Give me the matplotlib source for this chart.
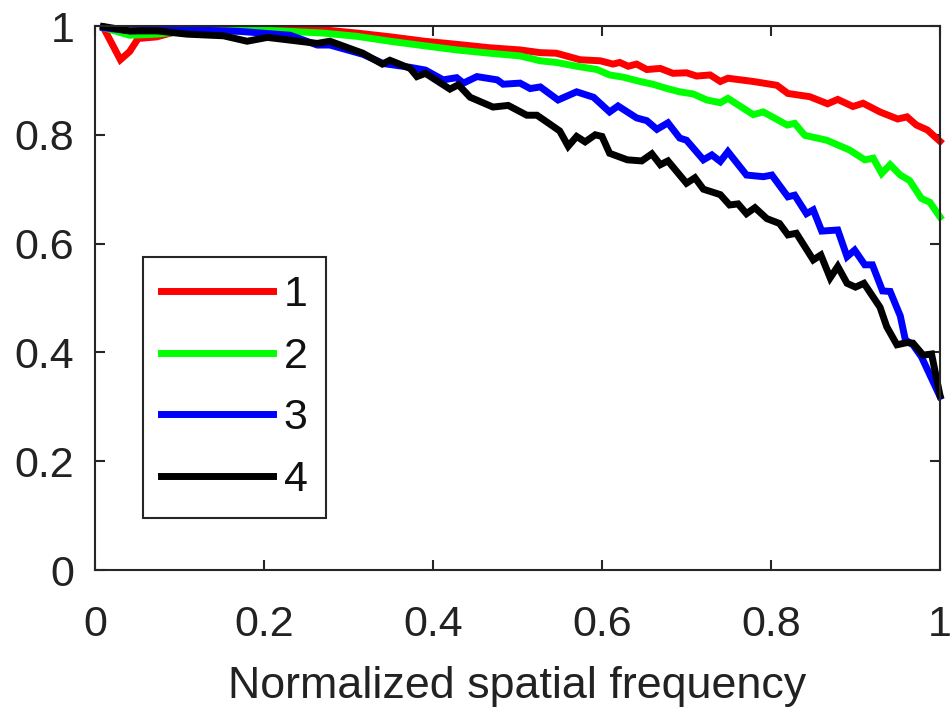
import matplotlib
matplotlib.use("Agg")
import matplotlib.pyplot as plt
from matplotlib.ticker import FixedLocator, FuncFormatter

plt.rcParams['font.family'] = ['Liberation Sans', 'DejaVu Sans']

labels = ["1", "2", "3", "4"]
colors = ["#ff0000", "#00ff00", "#0000ff", "#000000"]

x1 = [0.010, 0.030, 0.041, 0.051, 0.073, 0.097, 0.15, 0.20, 0.23, 0.27, 0.31, 0.35, 0.39, 0.43,
      0.467, 0.503, 0.527, 0.546, 0.574, 0.598, 0.613, 0.621, 0.631, 0.641, 0.653, 0.669, 0.684,
      0.700, 0.712, 0.728, 0.740, 0.749, 0.779, 0.807, 0.820, 0.846, 0.867, 0.879, 0.897, 0.909,
      0.929, 0.950, 0.961, 0.972, 0.985, 1.0]
y1 = [0.997, 0.938, 0.953, 0.977, 0.980, 0.990, 0.993, 0.995, 0.995, 0.993, 0.987, 0.980, 0.972, 0.966,
      0.960, 0.956, 0.951, 0.950, 0.938, 0.936, 0.930, 0.933, 0.926, 0.930, 0.920, 0.922, 0.913,
      0.914, 0.908, 0.910, 0.898, 0.904, 0.898, 0.891, 0.876, 0.870, 0.857, 0.865, 0.852, 0.858,
      0.842, 0.829, 0.833, 0.818, 0.809, 0.788]

x2 = [0.010, 0.041, 0.073, 0.112, 0.152, 0.191, 0.231, 0.270, 0.310, 0.349, 0.388, 0.428, 0.467,
      0.503, 0.527, 0.546, 0.570, 0.594, 0.609, 0.625, 0.645, 0.660, 0.677, 0.692, 0.708, 0.724,
      0.740, 0.749, 0.779, 0.791, 0.819, 0.828, 0.840, 0.866, 0.893, 0.911, 0.921, 0.931, 0.941,
      0.953, 0.964, 0.978, 0.988, 1.0]
y2 = [0.997, 0.983, 0.985, 0.991, 0.991, 0.993, 0.990, 0.987, 0.981, 0.972, 0.964, 0.956, 0.950,
      0.945, 0.936, 0.933, 0.926, 0.920, 0.910, 0.906, 0.898, 0.893, 0.885, 0.879, 0.875, 0.864,
      0.859, 0.867, 0.837, 0.842, 0.818, 0.821, 0.799, 0.790, 0.772, 0.754, 0.757, 0.729, 0.745,
      0.726, 0.716, 0.683, 0.676, 0.649]

x3 = [0.010, 0.041, 0.092, 0.112, 0.172, 0.231, 0.263, 0.278, 0.317, 0.341, 0.373, 0.391, 0.412,
      0.428, 0.436, 0.452, 0.476, 0.483, 0.503, 0.515, 0.527, 0.548, 0.570, 0.590, 0.609, 0.619,
      0.641, 0.653, 0.665, 0.678, 0.692, 0.700, 0.720, 0.730, 0.740, 0.749, 0.771, 0.791, 0.801,
      0.820, 0.828, 0.842, 0.850, 0.860, 0.879, 0.890, 0.899, 0.911, 0.920, 0.932, 0.941, 0.953,
      0.959, 0.968, 0.978, 1.0]
y3 = [0.997, 0.991, 0.994, 0.993, 0.990, 0.983, 0.965, 0.965, 0.948, 0.931, 0.924, 0.919, 0.901,
      0.905, 0.895, 0.907, 0.901, 0.893, 0.895, 0.885, 0.888, 0.864, 0.879, 0.869, 0.842, 0.853,
      0.831, 0.826, 0.810, 0.822, 0.794, 0.790, 0.754, 0.763, 0.751, 0.769, 0.726, 0.723, 0.726,
      0.686, 0.689, 0.655, 0.662, 0.623, 0.625, 0.576, 0.588, 0.561, 0.561, 0.513, 0.512, 0.467,
      0.423, 0.414, 0.392, 0.319]

x4 = [0.010, 0.041, 0.073, 0.109, 0.152, 0.180, 0.204, 0.231, 0.263, 0.278, 0.317, 0.340, 0.349,
      0.373, 0.381, 0.391, 0.420, 0.430, 0.444, 0.471, 0.489, 0.511, 0.523, 0.538, 0.550, 0.560,
      0.570, 0.580, 0.592, 0.600, 0.609, 0.630, 0.647, 0.659, 0.669, 0.678, 0.700, 0.710, 0.720,
      0.740, 0.751, 0.761, 0.771, 0.781, 0.795, 0.810, 0.820, 0.830, 0.850, 0.859, 0.870, 0.879,
      0.890, 0.900, 0.910, 0.929, 0.937, 0.949, 0.961, 0.968, 0.980, 0.990, 1.0]
y4 = [0.999, 0.991, 0.991, 0.985, 0.982, 0.972, 0.979, 0.974, 0.968, 0.972, 0.950, 0.930, 0.937,
      0.922, 0.907, 0.913, 0.884, 0.892, 0.869, 0.851, 0.854, 0.836, 0.836, 0.820, 0.807, 0.779,
      0.797, 0.787, 0.800, 0.797, 0.766, 0.754, 0.752, 0.765, 0.745, 0.752, 0.711, 0.721, 0.700,
      0.690, 0.671, 0.673, 0.655, 0.666, 0.646, 0.637, 0.616, 0.619, 0.570, 0.579, 0.537, 0.558,
      0.527, 0.520, 0.527, 0.483, 0.447, 0.414, 0.418, 0.417, 0.395, 0.397, 0.321]

xticks = [0, 0.2, 0.4, 0.6, 0.8, 1]
yticks = [0, 0.2, 0.4, 0.6, 0.8, 1]
xlabel = "Normalized spatial frequency"

W, H = 951, 714
fig = plt.figure(figsize=(W / 100, H / 100), dpi=100)
ax = fig.add_axes([95 / W, 1 - 570 / H, (940 - 95) / W, (570 - 26) / H])

edge = "#262626"
fs = 31
for xs, ys, c, lab in zip([x1, x2, x3, x4], [y1, y2, y3, y4], colors, labels):
    ax.plot(xs, ys, color=c, lw=5.0, label=lab, clip_on=False, solid_joinstyle='miter')

ax.set_xlim(0, 1)
ax.set_ylim(0, 1)
ax.xaxis.set_major_locator(FixedLocator(xticks))
ax.yaxis.set_major_locator(FixedLocator(yticks))
fmt = FuncFormatter(lambda v, p: "%g" % v)
ax.xaxis.set_major_formatter(fmt)
ax.yaxis.set_major_formatter(fmt)

for s in ax.spines.values():
    s.set_color(edge)
    s.set_linewidth(1.5)
ax.tick_params(axis='both', which='both', direction='in', length=7, width=1.5,
               color=edge, labelsize=fs, labelcolor="#222222", top=True, right=True)
ax.tick_params(axis='x', pad=25)
ax.tick_params(axis='y', pad=15)
ax.set_xlabel(xlabel, fontsize=32.3, color="#222222", labelpad=15)

leg = ax.legend(loc='upper left', bbox_to_anchor=(143 / W, 1 - 257 / H),
                bbox_transform=fig.transFigure, borderaxespad=0, fontsize=fs,
                frameon=True, fancybox=False, framealpha=1, edgecolor=edge,
                handlelength=2.6, handletextpad=0.25, borderpad=0.42,
                labelspacing=0.5)
leg.get_frame().set_linewidth(1.5)
for t in leg.get_texts():
    t.set_color("#111111")

fig.savefig("out.png", dpi=100)
